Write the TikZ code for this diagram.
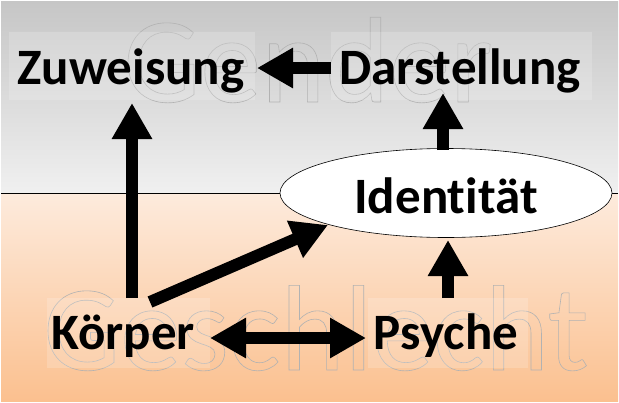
\documentclass[tikz,border=0pt]{standalone}
\usepackage{fontspec}
\setmainfont{Carlito}[RawFeature=-liga]
\usetikzlibrary{arrows.meta,shapes.geometric}
\definecolor{gtop}{HTML}{C6C6C6}
\definecolor{gbot}{HTML}{F0F0F0}
\definecolor{otop}{HTML}{FDEBDD}
\definecolor{obot}{HTML}{FBC08F}
\tikzset{
  lbl/.style={font=\bfseries\fontsize{51}{51}\selectfont, inner sep=0pt},
  ghost/.style={font=\fontsize{122}{122}\selectfont, text=black!30, anchor=base, inner sep=0pt},
  blk/.style={line width=12pt, -{Triangle[length=36pt,width=38pt]}},
  dblk/.style={line width=12pt, {Triangle[length=36pt,width=38pt]}-{Triangle[length=36pt,width=38pt]}},
  pane/.style={fill=white, fill opacity=0.18, draw=none}
}
\newcommand{\outl}[1]{\special{pdf:literal direct 1 Tr 0.6 w}#1\special{pdf:literal direct 0 Tr}}
\begin{document}
\begin{tikzpicture}[x=1pt,y=1pt]
\useasboundingbox (0,0) rectangle (619,-402);
\shade[top color=gtop, bottom color=gbot] (1,-1) rectangle (618,-193);
\shade[top color=otop, bottom color=obot] (1,-193) rectangle (618,-401);
\draw[line width=0.6pt] (1,-193) -- (618,-193);
\node[ghost] (g1) at (308,-102) {\outl{Gender}};
\node[ghost] (g2) at (316,-370) {\outl{Geschlecht}};
\fill[pane] (9,-32) rectangle (255,-100);
\fill[pane] (331,-32) rectangle (592,-100);
\fill[pane] (47,-298) rectangle (210,-368);
\fill[pane] (368,-298) rectangle (528,-368);
\node[lbl] (zu) at (131,-71) {Zuweisung};
\node[lbl] (da) at (460,-71) {Darstellung};
\node[draw, ellipse, fill=white, line width=0.6pt, minimum width=332pt, minimum height=89pt] (id) at (446,-193) {};
\node[lbl] (idt) at (446,-196) {Identität};
\node[lbl] (ko) at (123,-336) {Körper};
\node[lbl] (ps) at (446,-336) {Psyche};
\coordinate (a1) at (331,-68); \coordinate (a2) at (257,-68);
\draw[blk] (a1) -- (a2);
\coordinate (b1) at (132,-298); \coordinate (b2) at (132,-103);
\draw[blk] (b1) -- (b2);
\coordinate (c1) at (150,-302); \coordinate (c2) at (328,-225);
\draw[blk] (c1) -- (c2);
\coordinate (d1) at (448,-298); \coordinate (d2) at (448,-240);
\draw[blk] (d1) -- (d2);
\coordinate (e1) at (443,-150); \coordinate (e2) at (443,-93);
\draw[blk] (e1) -- (e2);
\coordinate (f1) at (210,-338); \coordinate (f2) at (366,-338);
\draw[dblk] (f1) -- (f2);
\end{tikzpicture}
\end{document}
